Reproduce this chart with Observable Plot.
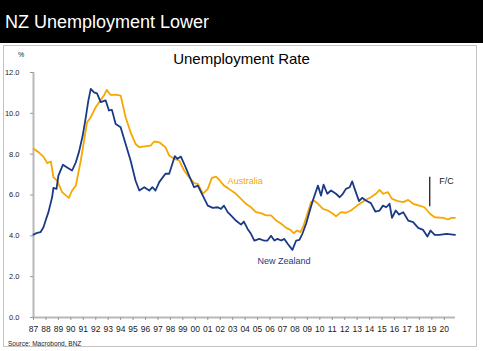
<!DOCTYPE html>
<html>
<head>
<meta charset="utf-8">
<script src="https://cdn.jsdelivr.net/npm/d3@7"></script>
<script src="https://cdn.jsdelivr.net/npm/@observablehq/plot@0.6"></script>
<style>
  html, body { margin: 0; padding: 0; background: #fff; }
  #wrap { position: relative; width: 483px; height: 351px; overflow: hidden; font-family: "Liberation Sans", Arial, sans-serif; }
  .abs { position: absolute; white-space: nowrap; line-height: 1; }
</style>
</head>
<body>
<div id="wrap">
  <div class="abs" style="left:0;top:0;width:483px;height:43px;background:#000"></div>
  <div class="abs" style="left:5px;top:13px;font-size:18px;color:#fff">NZ Unemployment Lower</div>
  <div class="abs" style="left:3px;top:45px;width:474px;height:302px;border:1.5px solid #c4c4c4;box-sizing:border-box"></div>
  <div class="abs" style="left:18px;top:51px;font-size:7px;color:#222">%</div>
  <div class="abs" style="left:0;top:51px;width:483px;text-align:center;font-size:15px;color:#000">Unemployment Rate</div>
  <div id="chart" class="abs" style="left:0;top:45px"></div>
  <div class="abs" style="left:8px;top:341px;font-size:6.5px;color:#222">Source: Macrobond, BNZ</div>
</div>
<script>
// New Zealand unemployment rate (%), decimal years
const nzYears = [1987.0,1987.3,1987.56,1987.8,1988.0,1988.2,1988.5,1988.6,1988.85,1989.0,1989.36,1989.7,1990.1,1990.4,1990.65,1990.95,1991.2,1991.4,1991.6,1991.86,1992.1,1992.4,1992.8,1993.06,1993.3,1993.6,1994.0,1994.4,1994.8,1995.2,1995.5,1995.9,1996.3,1996.55,1996.8,1997.1,1997.6,1997.9,1998.35,1998.57,1998.84,1999.1,1999.5,1999.9,2000.2,2000.6,2001.0,2001.4,2001.8,2002.06,2002.3,2002.6,2002.86,2003.26,2003.67,2003.9,2004.2,2004.47,2004.74,2005.14,2005.5,2005.8,2006.08,2006.35,2006.6,2006.9,2007.15,2007.43,2007.8,2008.1,2008.36,2008.6,2008.9,2009.2,2009.44,2009.85,2010.1,2010.3,2010.6,2010.9,2011.3,2011.6,2011.85,2012.1,2012.4,2012.6,2012.8,2013.15,2013.4,2013.7,2014.1,2014.46,2014.8,2015.07,2015.34,2015.6,2015.8,2016.1,2016.37,2016.7,2017.1,2017.5,2017.9,2018.3,2018.64,2018.9,2019.23,2019.6,2020.2,2020.86];
const nzRate  = [4.06,4.15,4.18,4.42,4.8,5.16,5.9,6.35,6.3,6.95,7.48,7.35,7.2,7.6,8.1,8.9,9.8,10.6,11.2,11.03,10.98,10.55,10.63,10.14,10.17,9.48,9.32,8.5,7.69,6.7,6.22,6.38,6.22,6.38,6.22,6.63,7.04,7.04,7.9,7.77,7.88,7.53,6.95,6.38,6.46,5.97,5.48,5.37,5.4,5.32,5.48,5.16,5.0,4.75,4.55,4.7,4.34,4.1,3.77,3.85,3.77,3.77,4.0,3.77,3.85,3.77,3.85,3.6,3.31,3.77,3.8,4.1,4.59,5.24,5.73,6.46,5.97,6.51,6.06,6.22,6.06,5.89,6.06,6.3,6.38,6.67,6.3,5.7,5.86,5.73,5.6,5.19,5.24,5.48,5.4,5.57,4.88,5.24,5.04,5.16,4.75,4.67,4.39,4.29,3.97,4.26,4.05,4.05,4.1,4.05];

// Australia unemployment rate (%), decimal years
const auYears = [1987.0,1987.4,1987.8,1988.1,1988.4,1988.6,1988.9,1989.3,1989.84,1990.1,1990.4,1990.8,1991.3,1991.6,1992.0,1992.4,1992.66,1992.88,1993.2,1993.7,1994.0,1994.4,1994.8,1995.2,1995.5,1996.4,1996.7,1997.1,1997.6,1997.9,1998.3,1998.7,1999.1,1999.5,1999.9,2000.2,2000.6,2001.0,2001.33,2001.66,2001.98,2002.3,2002.7,2003.26,2003.67,2004.07,2004.47,2004.87,2005.28,2005.68,2006.08,2006.5,2006.9,2007.3,2007.64,2007.9,2008.17,2008.44,2008.7,2009.0,2009.3,2009.52,2009.85,2010.25,2010.65,2011.05,2011.3,2011.7,2012.1,2012.5,2013.0,2013.6,2014.1,2014.5,2014.8,2015.1,2015.47,2015.8,2016.28,2016.7,2017.1,2017.5,2018.0,2018.4,2018.85,2019.23,2019.9,2020.3,2020.57,2020.86];
const auRate  = [8.26,8.1,7.88,7.56,7.64,6.87,6.7,6.14,5.86,6.22,6.46,7.69,9.56,9.81,10.3,10.66,10.87,11.15,10.9,10.9,10.87,9.81,9.07,8.5,8.34,8.42,8.62,8.58,8.34,7.93,7.77,7.69,7.2,6.87,6.58,6.55,6.06,6.3,6.84,6.9,6.7,6.46,6.3,6.06,5.81,5.57,5.4,5.16,5.11,5.0,5.0,4.75,4.59,4.39,4.29,4.13,4.26,4.18,4.5,5.08,5.65,5.73,5.57,5.32,5.24,5.08,4.95,5.16,5.13,5.24,5.48,5.73,5.89,6.06,6.25,6.06,6.14,5.81,5.7,5.65,5.76,5.57,5.48,5.4,5.08,4.91,4.88,4.8,4.88,4.88];

// Axis ticks
const xTicks = [1987,1988,1989,1990,1991,1992,1993,1994,1995,1996,1997,1998,1999,2000,2001,2002,2003,2004,2005,2006,2007,2008,2009,2010,2011,2012,2013,2014,2015,2016,2017,2018,2019,2020];
const yTicks = [0,2,4,6,8,10,12];

// Forecast marker and series labels
const fcMarker = [{x: 2018.83, y1: 5.42, y2: 6.87}];
const fcLabel = [{x: 2019.6, y: 6.7, text: "F/C"}];
const seriesLabels = [
  {x: 2004.0, y: 6.7, text: "Australia", series: "AU"},
  {x: 2007.13, y: 2.78, text: "New Zealand", series: "NZ"}
];

const NZ_COLOR = "#1a3a86";
const AU_COLOR = "#f6a800";

const nz = nzYears.map((t, i) => ({t, v: nzRate[i]}));
const au = auYears.map((t, i) => ({t, v: auRate[i]}));

const chart = Plot.plot({
  width: 483,
  height: 300,
  marginLeft: 33,
  marginRight: 28,
  marginTop: 27,
  marginBottom: 28,
  style: {fontFamily: "'Liberation Sans', Arial, sans-serif", background: "transparent", overflow: "visible"},
  x: {type: "linear", domain: [1987, 2020.9]},
  y: {domain: [0, 12]},
  marks: [
    Plot.ruleY([0], {stroke: "#b8b8b8", strokeWidth: 2}),
    Plot.ruleX([1987], {stroke: "#b8b8b8", strokeWidth: 2}),
    Plot.axisX({ticks: xTicks, tickFormat: d => String(d % 100).padStart(2, "0"), tickSize: 3, tickPadding: 5, stroke: "#999", fill: "#1a1a1a", fontSize: 8.5, label: null}),
    Plot.axisY({ticks: yTicks, tickFormat: d => d.toFixed(1), tickSize: 3, tickPadding: 11, stroke: "#999", fill: "#1a1a1a", fontSize: 7.5, label: null}),
    Plot.line(au, {x: "t", y: "v", stroke: AU_COLOR, strokeWidth: 1.8}),
    Plot.line(nz, {x: "t", y: "v", stroke: NZ_COLOR, strokeWidth: 1.8}),
    Plot.ruleX(fcMarker, {x: "x", y1: "y1", y2: "y2", stroke: "#222", strokeWidth: 1.3}),
    Plot.text(fcLabel, {x: "x", y: "y", text: "text", textAnchor: "start", fill: "#222", fontSize: 9}),
    Plot.text(seriesLabels, {x: "x", y: "y", text: "text", fill: d => d.series === "NZ" ? NZ_COLOR : AU_COLOR, fontSize: 9})
  ]
});
document.getElementById("chart").appendChild(chart);
</script>
</body>
</html>
